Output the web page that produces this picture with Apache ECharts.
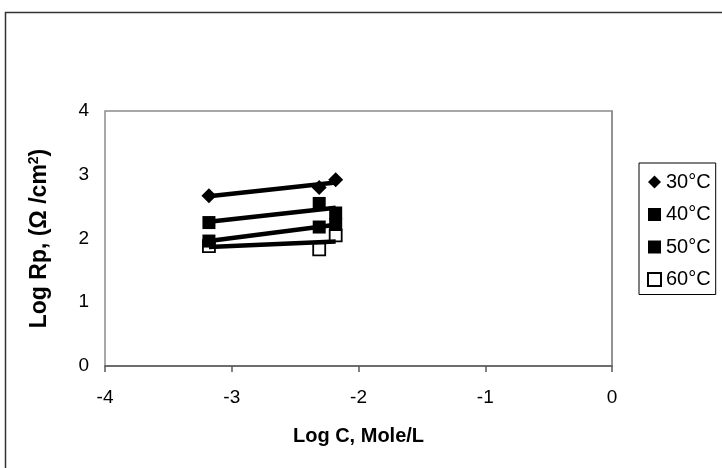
<!DOCTYPE html>
<html><head><meta charset="utf-8">
<script src="https://cdn.jsdelivr.net/npm/echarts@6/dist/echarts.min.js"></script>
<style>html,body{margin:0;padding:0;background:#fff}#c{width:722px;height:468px}</style>
</head><body><div id="c"></div>
<script>
// ---- data ----
const logC = [-3.18, -2.31, -2.18];
const rp30 = [2.67, 2.80, 2.92];
const rp40 = [2.25, 2.55, 2.40];
const rp50 = [1.96, 2.18, 2.22];
const rp60 = [1.88, 1.83, 2.05];
const seriesNames = ['30°C', '40°C', '50°C', '60°C'];
const xTicks = [-4, -3, -2, -1, 0];
const yTicks = [0, 1, 2, 3, 4];

const FONT = 'Liberation Sans, Arial, sans-serif';

function pairs(xs, ys) { return xs.map((x, i) => [x, ys[i]]); }
function trend(xs, ys) {
  const n = xs.length;
  const mx = xs.reduce((a, b) => a + b, 0) / n;
  const my = ys.reduce((a, b) => a + b, 0) / n;
  let sxy = 0, sxx = 0;
  for (let i = 0; i < n; i++) { sxy += (xs[i] - mx) * (ys[i] - my); sxx += (xs[i] - mx) ** 2; }
  const b = sxy / sxx, a = my - b * mx;
  const x0 = Math.min(...xs), x1 = Math.max(...xs);
  return [[x0, a + b * x0], [x1, a + b * x1]];
}

const allY = [rp30, rp40, rp50, rp60];
const symbols = ['diamond', 'rect', 'rect', 'rect'];
const sizes = [15, 13, 13, 12];
const styles = [
  { color: '#000', opacity: 1 },
  { color: '#000', opacity: 1 },
  { color: '#000', opacity: 1 },
  { color: '#fff', borderColor: '#000', borderWidth: 1.8, opacity: 1 }
];
const zs = [5, 4, 3, 2];

const series = [];
allY.forEach((ys, i) => {
  series.push({
    name: seriesNames[i], type: 'scatter', data: pairs(logC, ys),
    symbol: symbols[i], symbolSize: sizes[i], itemStyle: styles[i], z: zs[i]
  });
});
allY.forEach((ys, i) => {
  series.push({
    name: 'trend' + i, type: 'line', data: trend(logC, ys), symbol: 'none',
    lineStyle: { color: '#000', width: 4.5 }, z: 10, silent: true
  });
});

const chart = echarts.init(document.getElementById('c'), null, { renderer: 'canvas' });
chart.setOption({
  animation: false,
  backgroundColor: '#fff',
  graphic: [{
    type: 'rect', shape: { x: 5.5, y: 12.5, width: 800, height: 600 },
    style: { fill: 'none', stroke: '#333', lineWidth: 1.5 }, z: -10
  }],
  grid: {
    left: 105, top: 111, right: 110, bottom: 102,
    show: true, borderColor: '#8c8c8c', borderWidth: 1.5, backgroundColor: '#fff'
  },
  legend: {
    orient: 'vertical', left: 639, top: 163,
    data: seriesNames,
    itemWidth: 13, itemHeight: 13, itemGap: 12.5,
    padding: [9, 5, 5, 8],
    borderColor: '#000', borderWidth: 1, backgroundColor: '#fff',
    textStyle: { fontFamily: FONT, fontSize: 20, color: '#000' }
  },
  xAxis: {
    type: 'value', min: xTicks[0], max: xTicks[xTicks.length - 1], interval: 1,
    name: 'Log C, Mole/L', nameLocation: 'middle', nameGap: 60,
    nameTextStyle: { fontFamily: FONT, fontSize: 20, fontWeight: 'bold', color: '#000' },
    axisLine: { show: true, lineStyle: { color: '#595959', width: 1.5 } },
    axisTick: { show: true, length: 6, lineStyle: { color: '#595959', width: 1.5 } },
    axisLabel: { fontFamily: FONT, fontSize: 19, color: '#000', margin: 22 },
    splitLine: { show: false }
  },
  yAxis: {
    type: 'value', min: yTicks[0], max: yTicks[yTicks.length - 1], interval: 1,
    name: '{a|Log Rp, (Ω /cm}{b|2}{a|)}', nameLocation: 'middle', nameGap: 52,
    nameTextStyle: {
      fontFamily: FONT, fontSize: 23, fontWeight: 'bold', color: '#000',
      rich: {
        a: { fontFamily: FONT, fontSize: 23, fontWeight: 'bold', color: '#000', lineHeight: 26 },
        b: { fontFamily: FONT, fontSize: 14, fontWeight: 'bold', color: '#000', verticalAlign: 'top', lineHeight: 26 }
      }
    },
    axisLine: { show: true, lineStyle: { color: '#8c8c8c', width: 1.5 } },
    axisTick: { show: false },
    axisLabel: { fontFamily: FONT, fontSize: 19, color: '#000', margin: 16 },
    splitLine: { show: false }
  },
  series: series
});
</script></body></html>
